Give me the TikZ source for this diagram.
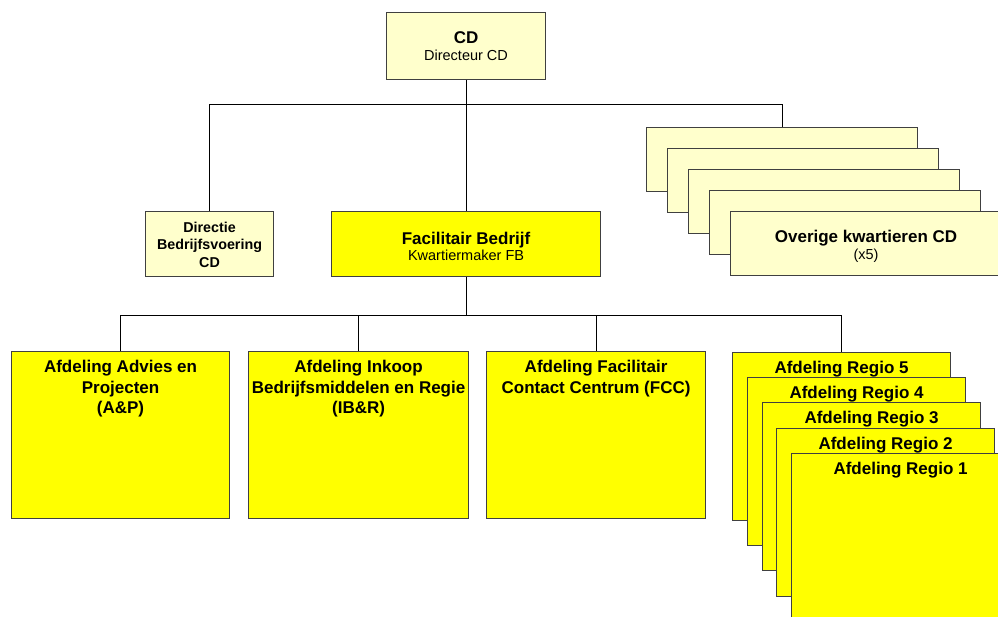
\documentclass[tikz,border=0pt]{standalone}
\usepackage{fontspec}
\setmainfont{Liberation Sans}
\definecolor{paleyellow}{HTML}{FFFFCC}
\definecolor{brightyellow}{HTML}{FFFF00}
\definecolor{edgegrey}{HTML}{404040}
\begin{document}
\begin{tikzpicture}[x=1pt,y=-1pt,
  orgbox/.style={draw=edgegrey,line width=1.1pt,rectangle,inner sep=0pt,anchor=north west},
  pale/.style={orgbox,fill=paleyellow},
  bright/.style={orgbox,fill=brightyellow},
  title/.style={font=\bfseries\fontsize{17}{20.5}\selectfont,align=center,inner sep=0pt},
  smalltitle/.style={font=\bfseries\fontsize{14.3}{17.5}\selectfont,align=center,inner sep=0pt},
  link/.style={draw=black,line width=0.8pt}]
\useasboundingbox (0,0) rectangle (998,616);
\clip (0,0) rectangle (998,616);

% top level
\node[pale,minimum width=159pt,minimum height=67pt] (cd) at (386,12) {};
\node[title] (cdT) at (cd.center) {CD\\[-3pt]{\normalfont\fontsize{14.5}{17}\selectfont Directeur CD}};

% second level
\node[pale,minimum width=128pt,minimum height=65pt] (dir) at (145,211) {};
\node[smalltitle] (dirT) at ([yshift=-0.5pt]dir.center) {Directie\\Bedrijfsvoering\\CD};

\node[bright,minimum width=269pt,minimum height=65pt] (fb) at (331,211) {};
\node[title] (fbT) at ([yshift=-2pt]fb.center) {Facilitair Bedrijf\\[-4.5pt]{\normalfont\fontsize{14.5}{17}\selectfont Kwartiermaker FB}};

% stacked kwartieren (back to front)
\foreach \i/\dx/\dy in {1/0/0,2/21/21,3/42/42,4/63/63,5/84/84}{
  \node[pale,minimum width=271pt,minimum height=64pt] (ov\i) at (646+\dx,127+\dy) {};
}
\node[title] (ovT) at ([yshift=-3pt]ov5.center) {Overige kwartieren CD\\[-3pt]{\normalfont\fontsize{14.5}{17}\selectfont (x5)}};

% third level
\node[bright,minimum width=218pt,minimum height=167pt] (ap) at (11,351) {};
\node[title,anchor=north] (apT) at ([yshift=-9pt]ap.north) {Afdeling Advies en\\Projecten\\(A\&P)};

\node[bright,minimum width=220pt,minimum height=167pt] (ib) at (248,351) {};
\node[title,anchor=north] (ibT) at ([yshift=-9pt]ib.north) {Afdeling Inkoop\\Bedrijfsmiddelen en Regie\\(IB\&R)};

\node[bright,minimum width=219pt,minimum height=167pt] (fcc) at (486,351) {};
\node[title,anchor=north] (fccT) at ([yshift=-9pt]fcc.north) {Afdeling Facilitair\\Contact Centrum (FCC)};

% stacked regional departments (back to front)
\foreach \i/\dx/\dy in {5/0/0,4/15/25,3/30/50,2/44/76,1/59/101}{
  \node[bright,minimum width=218pt,minimum height=168pt] (rg\i) at (732+\dx,352+\dy) {};
  \node[title,anchor=north] (rgT\i) at ([yshift=-9pt]rg\i.north) {Afdeling Regio \i};
}

% connectors
\draw[link] (cd.south) -- (fb.north);
\draw[link] (cd.south) -- ++(0,24) coordinate (busA) -| (dir.north);
\draw[link] (busA) -| (ov1.north);

\draw[link] (fb.south) -- ++(0,38) coordinate (busB) -| (ap.north);
\draw[link] (busB) -| (ib.north);
\draw[link] (busB) -| (fcc.north);
\draw[link] (busB) -| (rg5.north);
\end{tikzpicture}
\end{document}
